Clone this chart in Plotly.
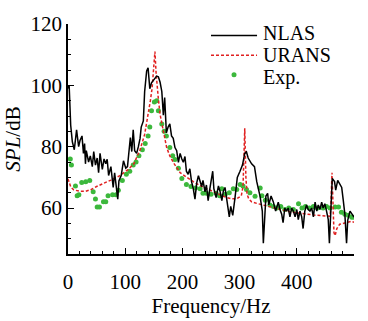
import plotly.graph_objects as go

# NLAS (black solid)
nlas_f = [0, 2, 4.7, 7.6, 11, 15, 18.6, 21, 24.5, 27, 29, 30.5, 32, 36, 39, 42.5, 45, 48, 51, 53.5, 56, 60, 63, 66,
          68.5, 71, 75, 79, 81.5, 85, 87, 89, 93, 97, 101, 104, 106.5, 109, 111.5, 114, 116.5, 120, 123, 126, 128,
          131.7, 134, 137.5, 140, 143, 146, 149, 152, 155, 158, 161, 164, 166.7, 169, 172, 175, 178, 181, 184, 187,
          190, 193, 196, 199, 201.6, 204.5, 207, 210, 213, 216, 219, 222, 225, 228, 231, 233.7, 236, 239.5, 242, 245,
          248, 253, 255, 259, 263, 266, 269, 271.5, 274.5, 277, 280, 282, 284.5, 288, 292, 296, 300.7, 305, 309, 312,
          315, 321, 326, 330, 335.7, 339.7, 341.5, 343.5, 346, 349, 351, 355, 359, 363, 367.6, 370.5, 373.6, 376,
          379, 382, 385, 388, 391, 394, 397, 400, 402.6, 405.5, 408.6, 411, 414, 417, 420, 423, 426, 429, 432, 435,
          437.6, 440.5, 443.5, 446, 449, 452, 455, 457, 459.5, 462, 466, 468, 471.5, 475.5, 478.5, 481, 484, 487,
          489, 493, 497, 500]
nlas_v = [99, 100, 87, 81.6, 79, 85.5, 80, 82, 83.5, 77.8, 81, 74.4, 78.7, 75, 77, 73.5, 78.4, 74, 76.3, 71.5, 77.8,
          72.6, 76, 74.4, 75.9, 70.6, 73.5, 66.7, 71.5, 65.8, 62.9, 68.8, 70.6, 75.4, 73, 73.5, 79.2, 83, 78.4, 85.5,
          78.7, 77.8, 80, 82.7, 86.4, 88.4, 98, 104.7, 105.7, 98.9, 100.8, 101.5, 102.3, 103, 102.8, 101, 98, 90.3,
          96, 84.5, 86.4, 87.4, 83.5, 82.7, 79.7, 78.7, 74.9, 77.8, 76, 74.9, 76.8, 72, 71, 72.8, 68.6, 66.3, 62.9,
          68.2, 70.5, 68.6, 67, 69, 65.3, 67.5, 62.4, 66.3, 72, 66.3, 63.4, 67.2, 65.3, 62.4, 65.5, 66.7, 63.4, 60.5,
          57.1, 60.5, 57.6, 63.4, 70, 72, 74, 77.8, 78.3, 76.3, 74.4, 73.5, 68.6, 63.9, 59, 48.5, 57, 63.9, 64.8, 61,
          63.9, 62, 59, 61.9, 59.5, 58, 55.2, 60, 59, 60, 57.1, 60, 59, 57.1, 59.5, 56.2, 59, 57.1, 53.3, 59, 61, 59.5,
          59, 60, 57.1, 61.9, 59, 61, 59.5, 61.9, 60, 61.4, 59, 56.2, 48.5, 58, 69.6, 68.6, 65.8, 69, 67.7, 66.7,
          62.9, 58, 48.5, 56, 59, 58, 57]

# URANS (red dashed)
urans_f = [0, 5, 10, 20, 30, 40, 50, 60, 75, 90, 98, 105, 115, 126, 134, 140, 144, 147, 150, 152, 154, 156, 158,
           161, 164, 168, 172.5, 178, 184, 196, 207, 219, 230, 242, 254, 266, 276, 286, 295, 300, 303, 306, 309,
           311, 313, 316, 321, 330, 340, 352, 367, 382, 397, 415, 430, 445, 452, 458, 459.5, 461.5, 463, 465, 467,
           470, 475, 484, 490, 496, 500]
urans_v = [69.5, 66.8, 65.9, 65.5, 65.4, 66, 67, 67.8, 69.1, 70.5, 71.5, 72.5, 74.4, 79, 84, 90, 95, 99, 105, 111,
           104, 99, 95.5, 90.5, 87.4, 83, 79.7, 77, 74.9, 71.5, 70, 68.6, 67.4, 66.3, 65.3, 64.3, 63.5, 63, 63, 63.5,
           64, 67, 86, 70, 64.5, 63, 62, 61.5, 61, 60.3, 59.5, 59, 58.5, 58, 57.7, 57.5, 57.3, 57.3, 60, 71.5, 63,
           52, 51, 53.3, 54.7, 55.2, 55.5, 55.7, 55.3]

# Exp. (green dots)
exp_f = [4, 6, 13, 16, 19, 24, 31, 38, 44, 48, 51, 55, 62, 66, 70, 78, 84, 88, 95, 102, 108, 114, 119, 124, 130,
         135, 140, 143, 146, 151, 155, 158, 164, 168, 172, 178, 183, 187, 193, 199, 207, 215, 223, 231, 236, 242,
         250, 259, 265, 269, 275, 282, 289, 295, 301, 306, 312, 318, 327, 336, 339, 345, 353, 359, 365, 372, 379,
         386, 394, 403, 409, 415, 422, 429, 436, 446, 452, 458, 467, 473, 478, 484, 490, 496, 500]
exp_v = [76, 74, 67.2, 64, 64.3, 68.3, 68.6, 69, 65.3, 62.9, 60.3, 60.3, 62, 62, 64, 64.3, 64.3, 65.8, 69, 71, 72,
         74, 75, 77, 79, 81, 83.5, 86.4, 91.7, 94.6, 95, 91.7, 87.4, 85, 83.5, 79.7, 77, 75.8, 73, 69.6, 67.7, 67,
         66.5, 66.3, 64.8, 64.8, 64.5, 64.8, 64, 66.3, 64.5, 65, 66.3, 66, 67.7, 67.2, 66, 65, 63.8, 66.5, 64, 62.5,
         61, 60.5, 60, 60.5, 59.5, 60, 59.5, 61.4, 60, 60.5, 60, 60.5, 60, 60, 60.5, 60, 60.3, 60.3, 58.6, 58,
         57.6, 57, 57]

x_ticks = [0, 100, 200, 300, 400, 500]
y_ticks = [60, 80, 100, 120]
legend_names = ["NLAS", "URANS", "Exp."]

FONT = "Liberation Serif, Times New Roman, serif"
BLACK = "black"
RED = "#e02020"
GREEN = "#3cb83c"

fig = go.Figure()
fig.add_trace(go.Scatter(x=exp_f, y=exp_v, mode="markers", name=legend_names[2],
                         marker=dict(color=GREEN, size=5), showlegend=False))
fig.add_trace(go.Scatter(x=urans_f, y=urans_v, mode="lines", name=legend_names[1],
                         line=dict(color=RED, width=1.5, dash="3px,2px"), showlegend=False))
fig.add_trace(go.Scatter(x=nlas_f, y=nlas_v, mode="lines", name=legend_names[0],
                         line=dict(color=BLACK, width=1.5), showlegend=False))

# manual legend (paper coordinates)
leg_x0, leg_x1, leg_tx = 0.50, 0.661, 0.68
leg_rows = [0.9496, 0.864, 0.779]
fig.add_shape(type="line", xref="paper", yref="paper", x0=leg_x0, x1=leg_x1, y0=leg_rows[0], y1=leg_rows[0],
              line=dict(color=BLACK, width=1.5))
fig.add_shape(type="line", xref="paper", yref="paper", x0=leg_x0, x1=leg_x1, y0=leg_rows[1], y1=leg_rows[1],
              line=dict(color=RED, width=1.5, dash="3px,2px"))
fig.add_trace(go.Scatter(x=[(leg_x0 + leg_x1) / 2], y=[leg_rows[2]], xaxis="x2", yaxis="y2", mode="markers",
                         marker=dict(color=GREEN, size=5), showlegend=False, hoverinfo="skip"))
legend_text = "<br>".join("<span style='font-size:20px'>%s</span>" % n for n in legend_names)
fig.add_annotation(xref="paper", yref="paper", x=leg_tx, y=leg_rows[1], text=legend_text, showarrow=False,
                   xanchor="left", yanchor="middle", align="left", borderpad=0,
                   font=dict(size=17, family=FONT, color="black"))

fig.update_layout(
    width=368, height=321,
    margin=dict(l=68, r=14, t=15, b=48),
    paper_bgcolor="white", plot_bgcolor="white",
    font=dict(family=FONT, size=21, color="black"),
    showlegend=False,
    xaxis=dict(range=[0, 500], tickvals=x_ticks, ticktext=[str(t) for t in x_ticks],
               showline=True, linecolor="black", linewidth=1.5, ticks="inside",
               ticklen=6, tickwidth=1.2, tickcolor="black", showgrid=False, zeroline=False,
               ticklabelstandoff=8,
               minor=dict(dtick=20, ticks="inside", ticklen=3, tickcolor="black", showgrid=False),
               title=dict(text="Frequency/Hz", font=dict(size=21), standoff=0)),
    yaxis=dict(range=[45, 120], tickvals=y_ticks, ticktext=[str(t) for t in y_ticks],
               showline=True, linecolor="black", linewidth=1.5, ticks="inside",
               ticklen=6, tickwidth=1.2, tickcolor="black", showgrid=False, zeroline=False,
               minor=dict(dtick=5, ticks="inside", ticklen=3, tickcolor="black", showgrid=False),
               title=dict(text="<i>SPL</i>/dB", font=dict(size=21), standoff=4)),
    xaxis2=dict(range=[0, 1], domain=[0, 1], overlaying="x", visible=False, fixedrange=True),
    yaxis2=dict(range=[0, 1], domain=[0, 1], overlaying="y", visible=False, fixedrange=True),
)

fig.write_html("out.html")
